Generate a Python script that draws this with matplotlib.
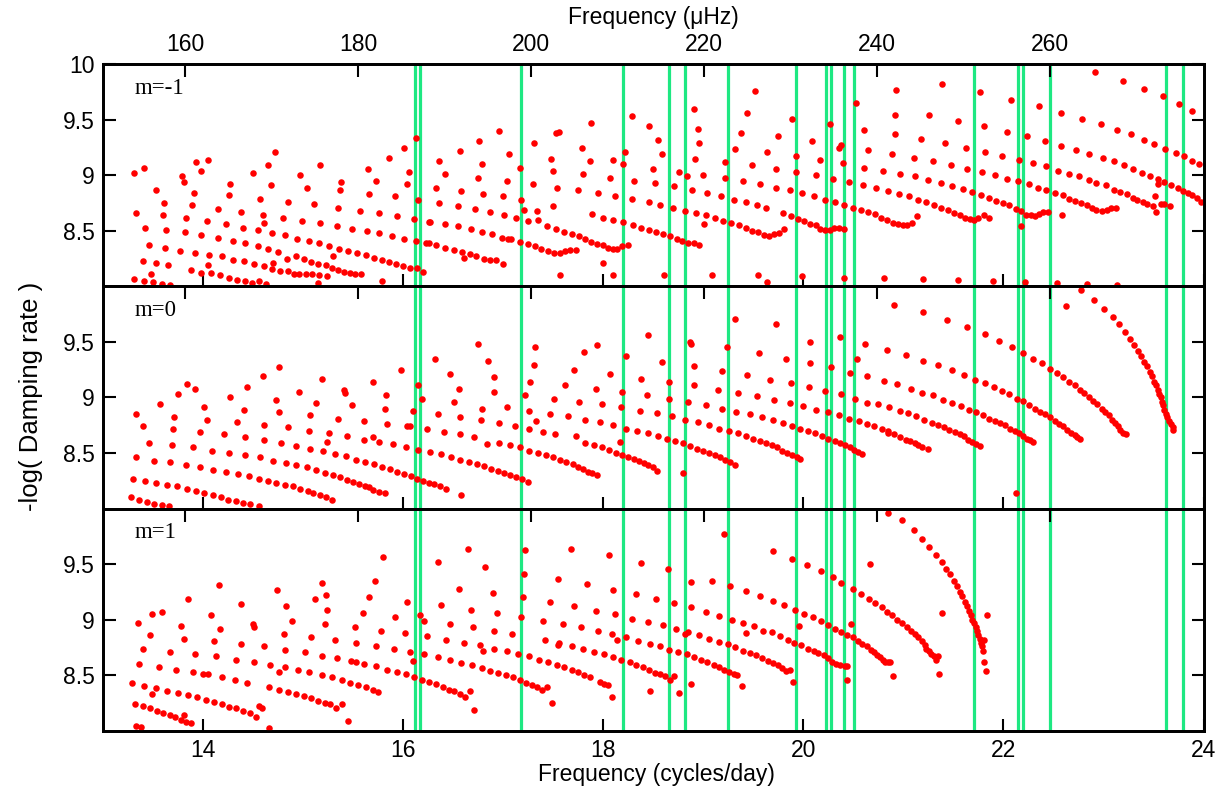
import matplotlib
matplotlib.use('Agg')
import matplotlib.pyplot as plt

plt.rcParams['font.family'] = ['Liberation Sans', 'DejaVu Sans']

# ---------------- data (frequency in cycles/day, -log damping rate) ----------------
obs_freqs = [16.123, 16.170, 17.178, 18.202, 18.658, 18.815, 19.244, 19.928, 20.222,
             20.278, 20.411, 20.504, 21.705, 22.148, 22.194, 22.467, 23.621, 23.797]

xticks_cd = [14, 16, 18, 20, 22, 24]
xtick_labels_cd = ['14', '16', '18', '20', '22', '24']
xticks_uhz = [160, 180, 200, 220, 240, 260]
xtick_labels_uhz = ['160', '180', '200', '220', '240', '260']
yticks_top = [8.5, 9.0, 9.5, 10.0]
ytick_labels_top = ['8.5', '9', '9.5', '10']
yticks_low = [8.5, 9.0, 9.5]
ytick_labels_low = ['8.5', '9', '9.5']
panel_labels = ['m=-1', 'm=0', 'm=1']

pts_m_neg1 = [
    (13.31, 9.02), (13.41, 9.07), (13.33, 8.66), (13.42, 8.53), (13.53, 8.87), (13.46, 8.37), (13.61, 8.75),
    (13.60, 8.64), (13.63, 8.51), (13.62, 8.35), (13.40, 8.23), (13.53, 8.21), (13.65, 8.19), (13.31, 8.07),
    (13.41, 8.05), (13.48, 8.11), (13.50, 8.04), (13.59, 8.02), (13.67, 8.01), (13.79, 8.99), (13.81, 8.94),
    (13.93, 9.12), (13.98, 9.04), (14.05, 9.14), (13.91, 8.84), (13.89, 8.73), (13.83, 8.62), (13.82, 8.49),
    (13.77, 8.32), (13.92, 8.30), (13.88, 8.15), (13.98, 8.12), (13.98, 8.46), (14.04, 8.59), (14.06, 8.28),
    (14.05, 8.19), (14.08, 8.12), (14.15, 8.70), (14.15, 8.44), (14.23, 8.56), (14.19, 8.27), (14.17, 8.10),
    (14.27, 8.92), (14.26, 8.82), (14.38, 8.67), (14.40, 8.53), (14.30, 8.41), (14.30, 8.24), (14.26, 8.08),
    (14.34, 8.06), (14.42, 8.39), (14.41, 8.23), (14.42, 8.05), (14.49, 8.03), (14.56, 8.05), (14.63, 8.02),
    (14.50, 9.02), (14.57, 8.79), (14.60, 8.64), (14.61, 8.57), (14.55, 8.51), (14.55, 8.36), (14.51, 8.20),
    (14.61, 8.18), (14.65, 9.09), (14.68, 8.91), (14.72, 9.21), (14.69, 8.48), (14.65, 8.34), (14.70, 8.21),
    (14.69, 8.16), (14.75, 8.31), (14.77, 8.14), (14.80, 8.62), (14.82, 8.46), (14.84, 8.25), (14.85, 8.76),
    (14.85, 8.14), (14.91, 8.11), (14.93, 8.27), (14.96, 8.11), (14.97, 9.00), (15.04, 8.89), (14.99, 8.59),
    (14.94, 8.43), (15.01, 8.25), (15.03, 8.11), (15.08, 8.22), (15.11, 8.74), (15.17, 9.09), (15.17, 8.57),
    (15.06, 8.41), (15.16, 8.39), (15.15, 8.20), (15.09, 8.11), (15.16, 8.10), (15.15, 8.03), (15.23, 8.19),
    (15.24, 8.09), (15.26, 8.36), (15.30, 8.27), (15.29, 8.17), (15.38, 8.94), (15.37, 8.87), (15.35, 8.71),
    (15.34, 8.54), (15.36, 8.34), (15.35, 8.15), (15.41, 8.13), (15.45, 8.32), (15.47, 8.12), (15.49, 8.52),
    (15.52, 8.11), (15.54, 8.30), (15.57, 8.68), (15.58, 8.11), (15.63, 8.28), (15.64, 8.50), (15.65, 9.06),
    (15.66, 8.83), (15.73, 8.95), (15.76, 8.66), (15.76, 8.48), (15.71, 8.26),
    (15.86, 9.16), (16.01, 9.25), (16.06, 9.03), (16.04, 8.92), (15.92, 8.81), (15.94, 8.63), (15.89, 8.45),
    (16.01, 8.43), (15.79, 8.24), (15.86, 8.22), (15.93, 8.20), (16.00, 8.18), (16.07, 8.17), (16.14, 8.17),
    (15.79, 8.05), (16.11, 8.61), (16.13, 8.41), (16.13, 9.34), (16.15, 8.78), (16.20, 8.13), (16.26, 8.58),
    (16.27, 8.58), (16.23, 8.39), (16.26, 8.39), (16.33, 8.37), (16.36, 9.13), (16.42, 9.01), (16.33, 8.89),
    (16.36, 8.75), (16.42, 8.56), (16.42, 8.35), (16.51, 8.33), (16.55, 8.72), (16.55, 8.54), (16.57, 9.22),
    (16.58, 8.86), (16.59, 8.31), (16.61, 8.26), (16.67, 8.29), (16.68, 8.52), (16.72, 8.70), (16.73, 8.27),
    (16.75, 8.98), (16.76, 9.31), (16.79, 9.10), (16.80, 8.83), (16.79, 8.49), (16.81, 8.25), (16.87, 8.67),
    (16.87, 8.24), (16.89, 8.47), (16.93, 8.24), (16.96, 9.40), (16.99, 8.44), (17.00, 8.20), (17.00, 8.81),
    (17.01, 8.64), (17.04, 8.95), (17.06, 9.19), (17.05, 8.43), (17.08, 8.43), (17.13, 8.62), (17.17, 9.07),
    (17.17, 8.40), (17.18, 8.78), (17.21, 8.69), (17.25, 8.59), (17.25, 8.38), (17.31, 9.29), (17.30, 8.92),
    (17.34, 8.68), (17.35, 8.60), (17.32, 8.36), (17.38, 8.34), (17.44, 8.54), (17.45, 8.32), (17.48, 9.15),
    (17.50, 9.04), (17.50, 8.72), (17.51, 8.30), (17.53, 8.52), (17.53, 9.38), (17.56, 9.39), (17.54, 8.89),
    (17.57, 8.30), (17.57, 8.10), (17.62, 8.32), (17.61, 8.49), (17.67, 8.33), (17.69, 8.47), (17.73, 8.33),
    (17.76, 8.45), (17.75, 8.87), (17.79, 9.25), (17.80, 9.01), (17.87, 9.13), (17.88, 9.47), (17.82, 8.43),
    (17.88, 8.40), (17.89, 8.65), (17.95, 8.84), (17.94, 8.38), (18.00, 8.62), (18.00, 8.37), (18.00, 8.21),
    (18.05, 8.35), (18.07, 8.98), (18.10, 9.14), (18.10, 8.60), (18.10, 8.34), (18.12, 8.81), (18.14, 8.34),
    (18.19, 8.36), (18.20, 9.10), (18.22, 9.21), (18.20, 8.58), (18.25, 8.37), (18.10, 8.10), (18.29, 9.53),
    (18.31, 8.95), (18.29, 8.79), (18.30, 8.55), (18.38, 8.53),
    (18.46, 9.44), (18.50, 9.06), (18.52, 8.93), (18.46, 8.76), (18.46, 8.51), (18.55, 9.32), (18.59, 9.19),
    (18.57, 8.73), (18.53, 8.49), (18.60, 8.47), (18.67, 8.45), (18.74, 8.43), (18.79, 8.41), (18.85, 8.39),
    (18.91, 8.39), (18.96, 8.37), (18.61, 8.10), (18.70, 8.71), (18.71, 8.90), (18.76, 9.03), (18.82, 8.68),
    (18.84, 8.99), (18.89, 8.87), (18.91, 9.60), (18.95, 9.42), (18.96, 9.29), (18.92, 9.15), (19.00, 9.00),
    (18.93, 8.66), (19.04, 8.84), (19.03, 8.64), (19.01, 8.56), (19.09, 8.10), (19.12, 8.62), (19.18, 8.81),
    (19.20, 8.59), (19.22, 8.98), (19.22, 9.12), (19.28, 8.57), (19.31, 8.78), (19.32, 9.24), (19.38, 9.38),
    (19.36, 8.55), (19.43, 8.76), (19.43, 8.53), (19.40, 8.95), (19.44, 9.56), (19.49, 9.09), (19.49, 8.50),
    (19.52, 9.76), (19.54, 8.73), (19.55, 8.49), (19.55, 8.10), (19.57, 8.92), (19.61, 8.46), (19.64, 8.04),
    (19.63, 8.71), (19.64, 9.21), (19.66, 8.45), (19.71, 8.47), (19.73, 9.06), (19.73, 8.89), (19.76, 8.48),
    (19.75, 9.35), (19.81, 8.52), (19.80, 8.66), (19.87, 8.87), (19.88, 8.63), (19.89, 9.51), (19.93, 9.17),
    (19.93, 9.03), (19.95, 8.61), (19.99, 8.09), (19.99, 8.84), (20.01, 8.59), (20.07, 8.56), (20.09, 9.31),
    (20.11, 8.81), (20.13, 9.00), (20.13, 8.55), (20.17, 9.14), (20.17, 8.52), (20.22, 8.78), (20.22, 8.51),
    (20.27, 8.51), (20.27, 9.46), (20.30, 8.97), (20.31, 8.53), (20.32, 8.76), (20.36, 9.25), (20.38, 9.27),
    (20.40, 9.11), (20.41, 8.73), (20.41, 8.52), (20.36, 8.53), (20.41, 8.08), (20.46, 8.94), (20.50, 8.71),
    (20.53, 9.65), (20.58, 8.69), (20.60, 8.91), (20.61, 9.07), (20.61, 9.41), (20.65, 8.67), (20.65, 9.23),
    (20.72, 8.65), (20.73, 8.89), (20.78, 8.62), (20.80, 9.04), (20.85, 8.86), (20.84, 8.60), (20.89, 9.19),
    (20.90, 8.57), (20.92, 9.37), (20.92, 9.54), (20.93, 9.77), (20.95, 8.56), (20.97, 9.01), (20.96, 8.83),
    (21.00, 8.55), (21.04, 8.55), (21.06, 8.81), (21.09, 8.57), (21.11, 9.16), (21.12, 8.99), (21.14, 8.63),
    (21.15, 8.78), (21.18, 9.33), (20.81, 8.08),
    (21.39, 9.82), (21.26, 9.54), (21.42, 9.29), (21.30, 9.13), (21.25, 8.96), (21.23, 8.76), (21.31, 8.73),
    (21.38, 8.71), (21.45, 8.69), (21.51, 8.66), (21.57, 8.64), (21.62, 8.62), (21.67, 8.61), (21.71, 8.60),
    (21.75, 8.62), (21.81, 8.64), (21.86, 8.62), (21.38, 8.93), (21.48, 9.09), (21.49, 8.90), (21.55, 9.49),
    (21.60, 8.88), (21.63, 9.25), (21.64, 9.06), (21.69, 8.85), (21.77, 9.75), (21.81, 9.44), (21.82, 9.21),
    (21.79, 9.03), (21.78, 8.82), (21.86, 8.80), (21.92, 9.00), (21.93, 8.77), (22.00, 8.75), (21.99, 9.17),
    (22.04, 9.39), (22.04, 8.97), (22.06, 8.73), (22.08, 9.68), (22.13, 8.70), (22.16, 9.14), (22.15, 8.95),
    (22.18, 8.68), (22.18, 8.54), (22.24, 9.35), (22.26, 8.92), (22.23, 8.64), (22.28, 8.64), (22.32, 8.63),
    (22.30, 9.11), (22.36, 9.62), (22.35, 8.89), (22.36, 8.65), (22.40, 8.67), (22.45, 8.67), (22.42, 9.31),
    (22.43, 9.08), (22.43, 8.87), (22.52, 8.84), (22.58, 9.56), (22.58, 9.26), (22.55, 9.04), (22.59, 8.64),
    (22.60, 8.82), (22.66, 9.01), (22.66, 8.79), (22.73, 9.23), (22.72, 8.77), (22.76, 8.99), (22.79, 9.51),
    (22.78, 8.75), (22.84, 8.73), (22.86, 9.19), (22.86, 8.96), (22.89, 8.71), (22.92, 9.93), (22.93, 8.93),
    (22.93, 8.69), (22.97, 9.46), (22.99, 9.16), (22.98, 8.68), (23.02, 8.91), (23.03, 8.69), (23.07, 8.71),
    (23.10, 9.13), (23.10, 8.87), (23.13, 9.41), (23.12, 8.71), (23.16, 8.85), (23.19, 9.85), (23.20, 9.09),
    (23.23, 8.83), (23.27, 9.37), (23.29, 9.06), (23.29, 8.80), (23.33, 8.78), (23.38, 9.02), (23.40, 9.32),
    (23.40, 9.78), (23.39, 8.76), (23.43, 8.74), (23.46, 8.99), (23.49, 8.72), (23.50, 9.28), (23.54, 8.97),
    (23.54, 8.92), (23.51, 8.81), (23.52, 8.67), (23.57, 8.74), (23.60, 8.74), (23.59, 9.71), (23.61, 9.24),
    (23.60, 8.94), (23.66, 8.72), (23.67, 8.91), (23.72, 9.20), (23.74, 8.89), (23.75, 9.64), (23.79, 8.86),
    (23.80, 9.17), (23.84, 8.84), (23.88, 9.58), (23.88, 9.13), (23.88, 8.82), (23.93, 8.80), (23.95, 9.10),
    (23.97, 8.76), (21.55, 8.06), (21.90, 8.05), (22.22, 8.04), (22.54, 8.03), (22.84, 8.02), (23.13, 8.01),
    (21.20, 8.07),
]

pts_m0 = [
    (13.33, 8.85), (13.40, 8.74), (13.46, 8.59), (13.33, 8.46), (13.30, 8.27), (13.28, 8.10), (13.36, 8.08),
    (13.44, 8.06), (13.51, 8.04), (13.59, 8.03), (13.66, 8.02), (13.57, 8.94), (13.51, 8.43), (13.42, 8.25),
    (13.53, 8.23), (13.64, 8.21), (13.74, 8.20), (13.84, 8.18), (13.93, 8.16), (14.01, 8.14), (14.10, 8.12),
    (14.18, 8.10), (14.25, 8.08), (14.33, 8.07), (14.40, 8.05), (14.47, 8.04), (14.56, 8.02), (13.84, 9.12),
    (13.75, 9.03), (13.92, 9.08), (13.71, 8.82), (13.70, 8.72), (13.69, 8.57), (13.67, 8.42), (13.83, 8.39),
    (14.01, 8.91), (14.04, 8.80), (13.97, 8.69), (13.90, 8.55), (13.97, 8.37), (14.09, 8.52), (14.10, 8.35),
    (14.23, 8.33), (14.35, 8.31), (14.46, 8.29), (14.56, 8.27), (14.65, 8.25), (14.73, 8.23), (14.82, 8.21),
    (14.90, 8.20), (14.97, 8.18), (15.05, 8.16), (15.10, 8.14), (15.17, 8.12), (15.23, 8.10), (15.29, 8.08),
    (14.27, 9.00), (14.21, 8.67), (14.26, 8.50), (14.41, 8.89), (14.34, 8.78), (14.42, 8.64), (14.42, 8.48),
    (14.44, 9.09), (14.60, 9.19), (14.73, 8.98), (14.76, 9.27), (14.76, 8.87), (14.61, 8.75), (14.61, 8.62),
    (14.57, 8.46), (14.70, 8.43), (14.78, 8.59), (14.83, 8.41), (14.85, 8.73), (14.93, 8.56), (14.93, 8.39),
    (15.04, 8.37), (15.13, 8.35), (15.22, 8.32), (15.30, 8.30), (15.37, 8.28), (15.44, 8.26), (15.50, 8.24),
    (15.56, 8.22), (15.62, 8.20), (15.66, 8.19), (15.70, 8.17), (14.96, 9.05), (15.07, 8.84), (15.06, 8.70),
    (15.07, 8.54), (15.20, 8.52), (15.13, 8.95), (15.19, 9.17), (15.26, 8.68), (15.24, 8.60), (15.32, 8.49),
    (15.43, 8.47), (15.53, 8.44), (15.62, 8.42), (15.71, 8.40), (15.41, 9.07), (15.42, 9.04), (15.49, 8.93),
    (15.35, 8.81), (15.44, 8.65), (15.61, 8.79), (15.61, 8.62), (15.70, 9.14), (15.70, 8.64),
    (15.76, 8.60), (15.83, 9.02), (15.82, 8.90), (15.84, 8.76), (15.76, 8.15), (15.82, 8.14), (15.79, 8.37),
    (15.87, 8.36), (15.94, 8.33), (16.01, 8.31), (16.08, 8.29), (16.14, 8.27), (16.20, 8.25), (16.26, 8.23),
    (16.31, 8.22), (16.37, 8.20), (16.43, 8.18), (15.90, 8.58), (16.03, 8.55), (15.98, 9.25), (16.10, 8.88),
    (16.04, 8.74), (16.07, 8.74), (16.15, 9.11), (16.19, 8.99), (16.15, 8.53), (16.24, 8.72), (16.27, 8.51),
    (16.32, 9.35), (16.35, 8.85), (16.38, 8.49), (16.41, 8.69), (16.47, 9.21), (16.48, 8.46), (16.51, 8.96),
    (16.56, 9.08), (16.57, 8.82), (16.57, 8.67), (16.57, 8.44), (16.58, 8.12), (16.66, 8.42), (16.71, 8.64),
    (16.74, 8.40), (16.75, 9.48), (16.79, 8.90), (16.78, 8.80), (16.81, 8.38), (16.84, 8.58), (16.85, 9.33),
    (16.88, 8.36), (16.91, 9.18), (16.91, 9.05), (16.95, 8.34), (16.96, 8.77), (16.96, 8.59), (17.01, 8.32),
    (17.04, 8.91), (17.07, 8.57), (17.07, 8.30), (17.12, 8.74), (17.13, 8.28), (17.17, 8.55), (17.19, 8.27),
    (17.25, 8.24), (17.22, 9.02), (17.27, 9.14), (17.26, 8.88), (17.26, 8.72), (17.31, 9.29), (17.32, 9.45),
    (17.33, 8.79), (17.26, 8.52), (17.35, 8.50), (17.40, 8.69), (17.43, 8.48), (17.47, 8.85), (17.50, 8.46),
    (17.51, 8.99), (17.52, 8.67), (17.57, 8.44), (17.62, 9.11), (17.63, 8.42), (17.65, 8.83), (17.70, 8.40),
    (17.71, 9.25), (17.73, 8.65), (17.76, 8.96), (17.75, 8.37), (17.80, 8.36), (17.81, 9.41), (17.82, 8.80),
    (17.82, 8.59), (17.85, 8.33), (17.89, 8.32), (17.93, 9.08), (17.94, 9.47), (17.94, 8.30), (17.91, 8.57),
    (17.97, 8.78), (17.99, 8.94), (17.99, 8.55), (18.06, 8.53), (18.07, 9.21), (18.10, 8.75), (18.13, 8.50),
    (18.17, 8.60), (18.18, 8.91), (18.19, 9.05), (18.19, 8.48), (18.23, 9.37), (18.23, 8.72), (18.25, 8.46),
    (18.31, 8.45), (18.34, 8.70), (18.36, 8.43), (18.37, 8.88), (18.38, 9.17), (18.41, 8.41), (18.44, 9.02),
    (18.45, 8.68), (18.45, 8.39), (18.45, 9.56),
    (18.59, 9.32), (18.54, 8.86), (18.55, 8.65), (18.50, 8.37), (18.54, 8.34), (18.66, 9.14), (18.66, 8.99),
    (18.69, 8.83), (18.64, 8.63), (18.72, 8.61), (18.80, 8.59), (18.87, 8.56), (18.94, 8.54), (19.00, 8.52),
    (19.06, 8.50), (19.12, 8.48), (19.17, 8.46), (19.22, 8.44), (19.27, 8.42), (19.32, 8.39), (18.80, 8.32),
    (18.87, 9.50), (18.88, 9.48), (18.91, 9.28), (18.91, 9.11), (18.85, 8.96), (18.82, 8.80), (18.95, 8.78),
    (19.03, 8.93), (19.06, 8.75), (19.16, 8.72), (19.24, 9.45), (19.19, 9.24), (19.15, 9.07), (19.19, 8.90),
    (19.26, 8.70), (19.32, 9.71), (19.35, 8.68), (19.35, 9.04), (19.33, 8.87), (19.43, 8.65), (19.44, 9.20),
    (19.47, 8.85), (19.50, 8.63), (19.54, 9.01), (19.56, 9.40), (19.57, 8.61), (19.59, 8.82), (19.63, 8.59),
    (19.67, 9.16), (19.71, 8.98), (19.70, 8.80), (19.73, 9.66), (19.69, 8.57), (19.74, 8.55), (19.79, 8.52),
    (19.83, 9.35), (19.80, 8.77), (19.88, 9.13), (19.87, 8.95), (19.84, 8.50), (19.89, 8.74), (19.89, 8.48),
    (19.94, 8.46), (19.97, 8.45), (19.97, 8.72), (20.00, 8.92), (20.05, 8.70), (20.06, 9.09), (20.07, 9.50),
    (20.07, 9.31), (20.13, 8.89), (20.12, 8.68), (20.19, 8.65), (20.22, 9.06), (20.25, 8.87), (20.25, 8.63),
    (20.28, 9.27), (20.32, 8.61), (20.37, 9.54), (20.38, 9.03), (20.36, 8.84), (20.37, 8.59), (20.42, 8.57),
    (20.46, 8.81), (20.47, 9.22), (20.47, 8.55), (20.52, 8.99), (20.51, 8.53), (20.54, 9.35), (20.56, 8.79),
    (20.55, 8.51), (20.59, 8.49), (20.62, 9.48), (20.64, 8.95), (20.64, 9.19), (20.64, 8.76), (20.71, 8.74),
    (20.75, 8.94), (20.79, 8.72), (20.81, 9.15), (20.84, 9.43), (20.85, 8.70), (20.85, 8.68), (20.86, 8.91),
    (20.91, 8.67), (20.91, 9.83), (20.94, 9.12), (20.97, 8.88), (20.97, 8.64), (21.03, 9.38), (21.03, 8.62),
    (21.05, 8.86), (21.08, 9.08), (21.07, 8.61), (21.12, 8.59), (21.13, 8.83), (21.15, 8.57), (21.20, 9.33),
    (21.20, 9.77), (21.19, 9.04), (21.21, 8.80), (21.19, 8.55),
    (21.25, 8.54),
    (21.44, 9.70), (21.64, 9.63), (21.82, 9.57), (21.96, 9.51), (22.09, 9.45), (22.20, 9.40), (22.30, 9.35),
    (22.39, 9.31), (22.47, 9.26), (22.54, 9.22), (22.60, 9.18), (22.66, 9.14), (22.72, 9.11), (22.77, 9.07),
    (22.81, 9.04), (22.86, 9.00), (22.90, 8.97), (22.94, 8.94), (22.98, 8.90), (23.01, 8.87), (23.05, 8.84),
    (23.08, 8.80), (23.11, 8.77), (23.14, 8.74), (23.16, 8.71), (23.19, 8.68), (23.22, 8.67),
    (21.35, 9.29), (21.49, 9.25), (21.61, 9.20), (21.72, 9.16), (21.82, 9.13), (21.91, 9.09), (21.99, 9.06),
    (22.06, 9.03), (22.14, 8.99), (22.20, 8.97), (22.26, 8.93), (22.32, 8.90), (22.37, 8.87), (22.42, 8.85),
    (22.47, 8.82), (22.52, 8.79), (22.56, 8.76), (22.60, 8.74), (22.64, 8.71), (22.68, 8.68), (22.72, 8.66),
    (22.74, 8.64), (22.77, 8.63),
    (21.30, 9.02), (21.40, 8.98), (21.49, 8.95), (21.58, 8.92), (21.66, 8.89), (21.73, 8.87), (21.80, 8.84),
    (21.86, 8.81), (21.92, 8.79), (21.97, 8.77), (22.02, 8.75), (22.07, 8.72), (22.12, 8.70), (22.16, 8.68),
    (22.20, 8.65), (22.24, 8.63), (22.27, 8.62), (22.30, 8.60),
    (21.29, 8.77), (21.35, 8.75), (21.41, 8.73), (21.46, 8.71), (21.52, 8.69), (21.57, 8.67), (21.61, 8.65),
    (21.65, 8.62), (21.69, 8.60), (21.73, 8.58), (21.77, 8.56),
    (22.63, 9.82), (22.78, 9.97), (22.91, 9.88), (23.00, 9.80), (23.09, 9.72), (23.15, 9.66), (23.21, 9.59),
    (23.26, 9.53), (23.30, 9.47), (23.34, 9.42), (23.37, 9.37), (23.40, 9.32), (23.43, 9.28), (23.46, 9.23),
    (23.48, 9.19), (23.50, 9.14), (23.52, 9.11), (23.54, 9.07), (23.55, 9.03), (23.57, 9.00), (23.58, 8.96),
    (23.59, 8.93), (23.60, 8.89), (23.62, 8.85), (23.63, 8.82), (23.65, 8.79), (23.67, 8.76), (23.69, 8.73),
    (23.69, 8.71), (22.13, 8.14),
]

pts_m1 = [
    (13.35, 8.97), (13.47, 8.86), (13.40, 8.74), (13.36, 8.60), (13.29, 8.43), (13.41, 8.40), (13.49, 8.33),
    (13.53, 8.38), (13.32, 8.24), (13.40, 8.22), (13.47, 8.20), (13.54, 8.18), (13.60, 8.16), (13.67, 8.14),
    (13.72, 8.12), (13.78, 8.10), (13.81, 8.14), (13.83, 8.08), (13.88, 8.07), (13.33, 8.04), (13.38, 8.03),
    (13.49, 9.05), (13.59, 9.07), (13.67, 8.71), (13.56, 8.57), (13.64, 8.36), (13.75, 8.34), (13.85, 8.32),
    (13.94, 8.30), (14.03, 8.28), (14.11, 8.26), (14.19, 8.24), (14.26, 8.21), (14.33, 8.20), (14.40, 8.18),
    (14.47, 8.16), (14.53, 8.12), (14.56, 8.22), (14.59, 8.20), (14.66, 8.02), (13.85, 9.19), (13.78, 8.94),
    (13.81, 8.83), (13.92, 8.69), (13.73, 8.55), (13.90, 8.53), (14.00, 8.51), (14.05, 8.51), (14.08, 9.04),
    (14.16, 9.31), (14.17, 8.92), (14.11, 8.81), (14.13, 8.67), (14.19, 8.48), (14.33, 8.64), (14.32, 8.46),
    (14.38, 9.14), (14.38, 8.78), (14.50, 8.96), (14.51, 8.93), (14.51, 8.62), (14.44, 8.43), (14.61, 8.76),
    (14.67, 8.59), (14.66, 8.39), (14.74, 9.27), (14.83, 9.12), (14.89, 8.99), (14.81, 8.87), (14.82, 8.73),
    (14.82, 8.57), (14.76, 8.53), (14.76, 8.37), (14.85, 8.35), (14.93, 8.33), (15.01, 8.31), (15.08, 8.29),
    (15.15, 8.27), (15.22, 8.25), (15.27, 8.24), (15.33, 8.20), (15.39, 8.24), (15.45, 8.09), (14.95, 8.55),
    (15.02, 8.71), (15.08, 8.84), (15.06, 8.53), (15.19, 9.33), (15.12, 9.19), (15.23, 9.22), (15.24, 9.09),
    (15.22, 8.96), (15.19, 8.67), (15.19, 8.50), (15.32, 8.82), (15.34, 8.65), (15.29, 8.48), (15.39, 8.46),
    (15.47, 8.43), (15.55, 8.41), (15.63, 8.39), (15.70, 8.37), (15.75, 8.35), (15.52, 8.93), (15.48, 8.63),
    (15.53, 8.79), (15.53, 8.62), (15.61, 8.60), (15.60, 9.06), (15.66, 9.20), (15.72, 9.35), (15.73, 8.76),
    (15.73, 8.58),
    (15.78, 8.90), (15.80, 9.56), (15.84, 8.55), (15.91, 8.74), (15.92, 9.02), (15.94, 8.53), (16.03, 8.51),
    (16.04, 9.16), (16.02, 8.88), (16.07, 8.71), (16.10, 8.63), (16.11, 8.48), (16.17, 9.04), (16.21, 8.99),
    (16.24, 8.85), (16.21, 8.69), (16.19, 8.46), (16.26, 8.44), (16.33, 8.42), (16.40, 8.39), (16.46, 8.37),
    (16.51, 8.36), (16.57, 8.33), (16.62, 8.30), (16.67, 8.36), (16.71, 8.19), (16.35, 9.52), (16.38, 9.13),
    (16.47, 8.96), (16.43, 8.82), (16.35, 8.66), (16.47, 8.64), (16.58, 8.61), (16.56, 9.28), (16.61, 8.79),
    (16.68, 9.09), (16.70, 8.93), (16.69, 8.59), (16.65, 9.64), (16.77, 8.77), (16.80, 8.72), (16.79, 8.56),
    (16.82, 9.47), (16.90, 9.24), (16.94, 9.06), (16.91, 8.90), (16.91, 8.74), (16.87, 8.54), (16.95, 8.52),
    (17.03, 8.50), (17.04, 8.72), (17.09, 8.87), (17.10, 8.48), (17.17, 8.46), (17.15, 8.69), (17.18, 9.02),
    (17.20, 9.20), (17.21, 9.41), (17.22, 9.63), (17.23, 8.43), (17.26, 8.67), (17.29, 8.41), (17.34, 8.39),
    (17.39, 8.37), (17.44, 8.39), (17.49, 8.25), (17.36, 8.64), (17.42, 8.82), (17.40, 8.99), (17.45, 8.62),
    (17.47, 9.16), (17.55, 9.37), (17.60, 8.96), (17.56, 8.79), (17.55, 8.77), (17.54, 8.59), (17.61, 8.57),
    (17.69, 8.55), (17.71, 9.12), (17.68, 9.64), (17.69, 8.76), (17.75, 8.53), (17.78, 8.93), (17.80, 8.74),
    (17.81, 8.50), (17.87, 8.48), (17.84, 9.32), (17.91, 8.71), (17.93, 9.08), (17.95, 8.90), (17.97, 8.44),
    (18.01, 8.42), (18.05, 8.41), (18.01, 8.69), (18.06, 9.58), (18.10, 9.27), (18.12, 9.05), (18.09, 8.30),
    (18.09, 8.87), (18.10, 8.66), (18.14, 8.82), (18.18, 8.64), (18.23, 8.84), (18.27, 8.62), (18.29, 9.01),
    (18.33, 8.59), (18.33, 9.23), (18.35, 8.81), (18.38, 9.51), (18.40, 8.57), (18.45, 8.98), (18.46, 8.55),
    (18.47, 8.78), (18.47, 8.36),
    (18.53, 9.19), (18.60, 8.95), (18.57, 8.76), (18.52, 8.52), (18.57, 8.51), (18.62, 8.49), (18.67, 8.46),
    (18.71, 8.49), (18.76, 8.34), (18.65, 9.46), (18.71, 9.15), (18.73, 8.92), (18.66, 8.73), (18.75, 8.71),
    (18.82, 8.87), (18.85, 8.89), (18.84, 8.69), (18.88, 9.34), (18.88, 9.11), (18.88, 8.42), (18.91, 8.66),
    (18.98, 8.64), (18.96, 8.86), (19.03, 9.07), (19.04, 8.62), (19.09, 9.35), (19.06, 8.83), (19.11, 8.59),
    (19.16, 9.03), (19.16, 8.80), (19.16, 8.57), (19.21, 9.77), (19.21, 8.55), (19.27, 9.30), (19.29, 9.00),
    (19.25, 8.78), (19.26, 8.53), (19.31, 8.51), (19.34, 8.50), (19.39, 8.40), (19.32, 8.75), (19.40, 8.97),
    (19.43, 9.26), (19.43, 8.88), (19.40, 8.72), (19.47, 8.70), (19.51, 8.94), (19.53, 8.68), (19.57, 9.21),
    (19.60, 8.90), (19.59, 8.65), (19.65, 8.63), (19.70, 9.62), (19.70, 9.17), (19.69, 8.89), (19.70, 8.61),
    (19.75, 8.59), (19.77, 8.85), (19.79, 8.56), (19.81, 9.13), (19.85, 8.82), (19.83, 8.54), (19.87, 8.55),
    (19.89, 9.55), (19.92, 9.09), (19.91, 8.79), (19.96, 8.94), (19.90, 8.44), (19.98, 8.77), (20.01, 9.05),
    (20.04, 9.49), (20.05, 8.74), (20.10, 9.02), (20.11, 8.72), (20.15, 8.70), (20.18, 9.44), (20.18, 8.99),
    (20.21, 8.68), (20.25, 8.95), (20.25, 8.65), (20.30, 9.38), (20.29, 8.62), (20.32, 8.92), (20.33, 8.60),
    (20.37, 8.59), (20.38, 9.33), (20.38, 8.89), (20.42, 8.58), (20.44, 8.58), (20.44, 8.46), (20.44, 8.86),
    (20.48, 8.96), (20.50, 9.28), (20.50, 8.84), (20.55, 8.81), (20.58, 9.23), (20.59, 8.78), (20.64, 8.76),
    (20.66, 9.19), (20.68, 8.73), (20.67, 9.50), (20.72, 9.15), (20.71, 8.71), (20.79, 9.11), (20.74, 8.68),
    (20.77, 8.66), (20.80, 8.64), (20.82, 8.62), (20.85, 8.62), (20.87, 8.62), (20.90, 8.49), (20.84, 9.07),
    (20.85, 9.96), (20.89, 9.04), (20.94, 9.00), (20.99, 9.90), (20.99, 8.97), (21.04, 8.93), (21.08, 8.90),
    (21.11, 9.81), (21.12, 8.87), (21.15, 8.84), (21.19, 9.73), (21.19, 8.81), (21.22, 8.77),
    (21.26, 9.65), (21.33, 9.58), (21.39, 9.52), (21.43, 9.46), (21.47, 9.41), (21.51, 9.35), (21.54, 9.30),
    (21.57, 9.25), (21.59, 9.21), (21.62, 9.16), (21.64, 9.12), (21.66, 9.08), (21.68, 9.04), (21.69, 9.00),
    (21.71, 8.97), (21.73, 8.93), (21.74, 8.90), (21.75, 8.86), (21.77, 8.83), (21.78, 8.79), (21.79, 8.76),
    (21.80, 8.72), (21.23, 8.74), (21.26, 8.72), (21.28, 8.69), (21.31, 8.67), (21.33, 8.64), (21.35, 8.67),
    (21.36, 8.51), (21.39, 9.06), (21.84, 9.04), (21.81, 8.82), (21.81, 8.62), (21.83, 8.54),
]

# ---------------- figure ----------------
CD2UHZ = 1e6 / 86400.0
GREEN = '#1ee882'
FS = 16.5

fig = plt.figure(figsize=(12.31, 7.92), dpi=100)
left, width, height = 0.0837, 0.894, 0.2805
bottoms = [0.6384, 0.3579, 0.0774]
all_pts = [pts_m_neg1, pts_m0, pts_m1]

for i, pts in enumerate(all_pts):
    ax = fig.add_axes([left, bottoms[i], width, height])
    ax.set_xlim(13, 24)
    ax.set_ylim(8, 10)
    for f in obs_freqs:
        ax.axvline(f, color=GREEN, lw=2.3, zorder=1)
    xs = [p[0] for p in pts]
    ys = [p[1] for p in pts]
    ax.plot(xs, ys, 'o', color='#ff0000', ms=4.7, mec='none', zorder=3)
    ax.set_xticks(xticks_cd)
    ax.set_xticklabels(xtick_labels_cd)
    if i == 0:
        ax.set_yticks(yticks_top)
        ax.set_yticklabels(ytick_labels_top)
    else:
        ax.set_yticks(yticks_low)
        ax.set_yticklabels(ytick_labels_low)
    ax.tick_params(axis='both', direction='in', length=9, width=1.5, labelsize=FS,
                   right=True, top=False, pad=6)
    if i < 2:
        ax.tick_params(axis='x', labelbottom=False)
    for s in ax.spines.values():
        s.set_linewidth(2.0)

    ax2 = ax.twiny()
    ax2.set_xlim(13 * CD2UHZ, 24 * CD2UHZ)
    ax2.set_xticks(xticks_uhz)
    ax2.set_xticklabels(xtick_labels_uhz)
    ax2.tick_params(axis='x', direction='in', length=9, width=1.5, labelsize=FS,
                    labeltop=(i == 0), pad=6)
    for s in ax2.spines.values():
        s.set_linewidth(2.0)

    ax.text(0.029, 0.893, panel_labels[i], transform=ax.transAxes, fontsize=16.5,
            family='Liberation Serif', va='center', ha='left')

fig.text(0.5305, 0.978, 'Frequency (\u03bcHz)', ha='center', va='center', fontsize=FS)
fig.text(0.533, 0.022, 'Frequency (cycles/day)', ha='center', va='center', fontsize=FS)
fig.text(0.025, 0.499, '-log( Damping rate )', ha='center', va='center', rotation=90, fontsize=18.5)

fig.savefig('out.png', dpi=100)
